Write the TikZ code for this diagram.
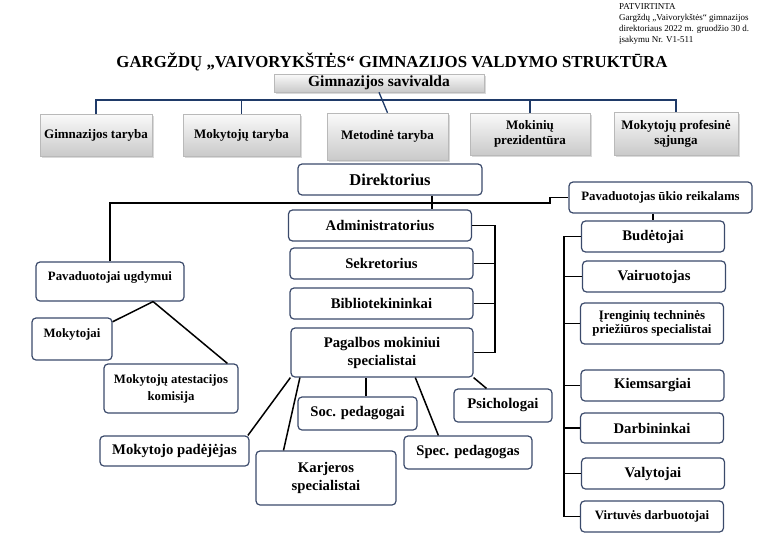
\documentclass[tikz,border=0pt]{standalone}
\usepackage{fontspec}
\setmainfont{Liberation Serif}
\usetikzlibrary{shadows}
\definecolor{boxedge}{HTML}{3B4A6B}
\definecolor{busblue}{HTML}{1F3A68}
\begin{document}
\begin{tikzpicture}[x=1pt,y=-1pt,
    box/.style={draw=boxedge,line width=1.2pt,rounded corners=4pt,fill=white,
      inner sep=2pt,align=center,minimum width=183,minimum height=31,
      font=\bfseries\fontsize{14.7}{18}\selectfont},
    smallbox/.style={box,font=\bfseries\fontsize{12.8}{15}\selectfont},
    staff/.style={box,minimum width=143},
    council/.style={draw=gray!55,line width=0.5pt,top color=gray!4,bottom color=gray!42,
      drop shadow={opacity=0.3,shadow xshift=1.5pt,shadow yshift=-1.5pt},
      inner sep=1pt,align=center,minimum height=42,
      font=\bfseries\fontsize{13}{15}\selectfont},
    link/.style={line width=1.5pt},
    buslink/.style={busblue,line width=1.3pt}
    ]

    \useasboundingbox (0,0) rectangle (780,552);

    \node (note) [anchor=north west,align=left,inner sep=0pt,
      font=\fontsize{9}{11}\selectfont] at (619,3)
      {PATVIRTINTA\\Gargždų „Vaivorykštės“ gimnazijos\\direktoriaus 2022 m. gruodžio 30 d.\\įsakymu Nr. V1-511};
    \node (title) [font=\bfseries\fontsize{16.8}{18}\selectfont] at (392,62)
      {GARGŽDŲ „VAIVORYKŠTĖS“ GIMNAZIJOS VALDYMO STRUKTŪRA};

    % savivalda
    \node (sav) [council,minimum width=210,minimum height=18,inner sep=0pt,
      font=\bfseries\fontsize{15.5}{17}\selectfont] at (379,83) {Gimnazijos savivalda};
    \node (gt) [council,minimum width=112] at (96,135) {Gimnazijos taryba};
    \node (mt) [council,minimum width=117] at (241.5,135) {Mokytojų taryba};
    \node (met) [council,minimum width=121,minimum height=47] at (387.5,136.5) {Metodinė taryba};
    \node (mp) [council,minimum width=120] at (530,134) {Mokinių\\prezidentūra};
    \node (mps) [council,minimum width=124,minimum height=43] at (676,133.5) {Mokytojų profesinė\\sąjunga};

    \coordinate (bus) at (379,100);
    \draw[buslink] (sav.south) -- (met.north);
    \draw[buslink] (gt.north) -- (gt.north |- bus) -- (mps.north |- bus) -- (mps.north);
    \foreach \n in {mt,mp}
      \draw[buslink] (\n.north) -- (\n.north |- bus);

    % direktorius
    \node (dir) [box,minimum width=184,font=\bfseries\fontsize{16.5}{18}\selectfont]
      at (390,179.5) {Direktorius};
    \node (adm) [box] at (380,225.5) {Administratorius};
    \node (sek) [box] at (381.5,263.5) {Sekretorius};
    \node (bib) [box] at (381.5,303.5) {Bibliotekininkai};
    \node (pag) [box,minimum width=182,minimum height=49] at (382,352.5)
      {Pagalbos mokiniui\\specialistai};

    \coordinate (dj) at (432,203);
    \coordinate (jog) at (550,203);
    \coordinate (br) at (495,0);
    \draw[link] (dir.south -| dj) -- (adm.north -| dj);
    \draw[link] (adm.east) -| (br |- pag.east) -- (pag.east);
    \foreach \n in {sek,bib}
      \draw[link] (\n.east) -- (\n.east -| br);

    % pagalbos specialistai
    \node (mpad) [box,minimum width=149,minimum height=30] at (174.5,451) {Mokytojo padėjėjas};
    \node (karj) [box,minimum width=140,minimum height=54] at (326,478) {Karjeros\\specialistai};
    \node (soc) [box,minimum width=119,minimum height=33] at (357.5,413.5) {Soc. pedagogai};
    \node (spec) [box,minimum width=128,minimum height=33] at (468,452.5) {Spec. pedagogas};
    \node (psi) [box,minimum width=98,minimum height=33] at (503,405.5) {Psichologai};

    \draw[link] (pag.south west) -- (mpad.12);
    \draw[link] (pag.-163) -- (karj.147);
    \draw[link] ([xshift=8.5]soc.north) -- ([xshift=8.5]soc.north |- pag.south);
    \draw[link] (pag.-37) -- (spec.150);
    \draw[link] (pag.south east) -- (psi.134);

    % ugdymas
    \node (pu) [smallbox,minimum width=148,minimum height=39,text height=15,text depth=18]
      at (110,281.5) {Pavaduotojai ugdymui};
    \node (mok) [smallbox,minimum width=80,minimum height=42,text height=16,text depth=20]
      at (72,339) {Mokytojai};
    \node (mat) [smallbox,minimum width=134,minimum height=49,font=\bfseries\fontsize{12.8}{17}\selectfont]
      at (171,388.5) {Mokytojų atestacijos\\komisija};

    \draw[link] (pu.-25) -- (mok.23);
    \draw[link] (pu.-25) -- (mat.24);

    % ukio reikalai
    \node (pau) [smallbox,minimum width=183] at (660.5,197.5) {Pavaduotojas ūkio reikalams};
    \node (bud) [staff] at (653,236.5) {Budėtojai};
    \node (vai) [staff] at (654,276.5) {Vairuotojas};
    \node (ire) [staff,minimum height=41,font=\bfseries\fontsize{12.9}{14}\selectfont]
      at (652,323.5) {Įrenginių techninės\\priežiūros specialistai};
    \node (kie) [staff] at (652.5,385.5) {Kiemsargiai};
    \node (dar) [staff,minimum height=30] at (652,428) {Darbininkai};
    \node (val) [staff] at (653,473.5) {Valytojai};
    \node (vir) [staff,font=\bfseries\fontsize{12.8}{15}\selectfont] at (652,516.5) {Virtuvės darbuotojai};

    \draw[link] (pu.north) |- (jog) |- (pau.west);

    \coordinate (rb) at (564,0);
    \draw[link] (bud.north |- pau.south) -- (bud.north);
    \draw[link] (bud.west) -- (bud.west -| rb) -- (vir.west -| rb) -- (vir.west);
    \foreach \n in {vai,ire,kie,dar,val}
      \draw[link] (\n.west) -- (\n.west -| rb);

  \end{tikzpicture}
\end{document}
